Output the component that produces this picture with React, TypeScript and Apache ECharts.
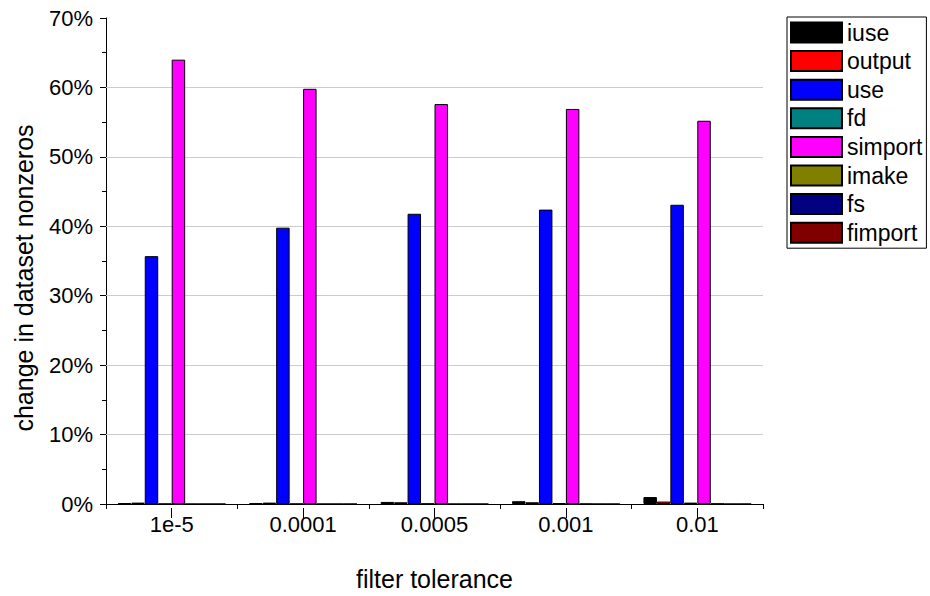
import React, { useEffect, useRef } from "react";
import * as echarts from "echarts";

const categories = ["1e-5", "0.0001", "0.0005", "0.001", "0.01"];
const seriesNames = ["iuse", "output", "use", "fd", "simport", "imake", "fs", "fimport"];
const seriesColors = ["#000000", "#ff0000", "#0000ff", "#008080", "#ff00ff", "#808000", "#000080", "#800000"];
const iuse = [0.1, 0.1, 0.3, 0.4, 1.0];
const output = [0.2, 0.2, 0.25, 0.25, 0.35];
const use = [35.7, 39.8, 41.8, 42.4, 43.1];
const fd = [0.02, 0.02, 0.05, 0.1, 0.2];
const simport = [64.0, 59.8, 57.6, 56.9, 55.2];
const imake = [0, 0, 0, 0.02, 0.05];
const fs = [0, 0, 0, 0, 0];
const fimport = [0, 0, 0, 0, 0];
const gridValues = [10, 20, 30, 40, 50, 60];
const yTitle = "change in dataset nonzeros";
const xTitle = "filter tolerance";

const allData = [iuse, output, use, fd, simport, imake, fs, fimport];

export default function App() {
  const ref = useRef<HTMLDivElement>(null);
  useEffect(() => {
    if (!ref.current) return;
    const chart = echarts.init(ref.current, null, { renderer: "svg" });
    const font = "Liberation Sans, Arial, sans-serif";
    const gridTop = 18;
    const gridBottom = 88;
    const gridHeight = 596 - gridTop - gridBottom;
    const series: any[] = seriesNames.map((name, i) => ({
      name,
      type: "bar",
      data: allData[i],
      barGap: "0%",
      barCategoryGap: "18%",
      itemStyle: { color: seriesColors[i], borderColor: "#000", borderWidth: 1 },
      z: 3,
    }));
    series[0].markLine = {
      silent: true,
      symbol: "none",
      label: { show: false },
      lineStyle: { color: "#cccccc", type: "solid", width: 1 },
      z: 1,
      data: gridValues.map((v) => ({ yAxis: v })),
    };
    chart.setOption({
      animation: false,
      backgroundColor: "#fff",
      grid: { left: 106, right: 167, top: gridTop, bottom: gridBottom },
      legend: {
        orient: "vertical",
        left: 787,
        top: 17,
        itemWidth: 51,
        itemHeight: 20,
        itemGap: 5.6,
        padding: [4, 4, 4, 3],
        borderColor: "#000",
        borderWidth: 1,
        icon: "rect",
        textStyle: { fontSize: 23, color: "#000", fontFamily: font },
        data: seriesNames,
      },
      graphic: [
        {
          type: "text",
          x: 24,
          y: 278,
          rotation: Math.PI / 2,
          style: {
            text: yTitle,
            fontSize: 25,
            fontFamily: font,
            fill: "#000",
            align: "center",
            verticalAlign: "middle",
          },
        },
      ],
      xAxis: [
        {
          type: "category",
          data: categories,
          position: "bottom",
          name: xTitle,
          nameLocation: "middle",
          nameGap: 62,
          nameTextStyle: { fontSize: 25, color: "#000", fontFamily: font },
          axisLine: { lineStyle: { color: "#000", width: 1 } },
          axisTick: { show: true, length: 5, lineStyle: { color: "#000" } },
          axisLabel: { fontSize: 22, color: "#000", fontFamily: font, margin: 9 },
        },
        {
          type: "category",
          data: categories,
          position: "top",
          offset: -gridHeight,
          axisLine: { show: false },
          axisTick: { show: true, inside: true, alignWithLabel: true, length: 10, lineStyle: { color: "#000" } },
          axisLabel: { show: false },
        },
      ],
      yAxis: {
        type: "value",
        min: 0,
        max: 70,
        interval: 10,
        axisLine: { show: true, lineStyle: { color: "#000", width: 1 } },
        axisTick: { show: true, length: 6, lineStyle: { color: "#000" } },
        minorTick: { show: true, splitNumber: 2, length: 4, lineStyle: { color: "#000" } },
        splitLine: { show: false },
        axisLabel: { fontSize: 22, color: "#000", fontFamily: font, formatter: "{value}%", margin: 13 },
      },
      series,
    });
    return () => chart.dispose();
  }, []);
  return <div ref={ref} style={{ width: 930, height: 596, position: "absolute", left: 0, top: 0 }} />;
}
